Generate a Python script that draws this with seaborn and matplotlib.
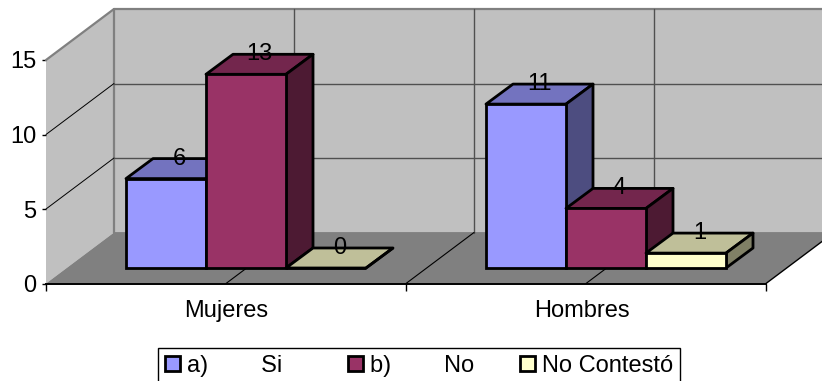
import matplotlib
matplotlib.use("Agg")
import matplotlib.pyplot as plt
import matplotlib.colors as mcolors
from matplotlib.patches import Polygon
import pandas as pd
import seaborn as sns

categories = ["Mujeres", "Hombres"]
series_names = ["a)        Si   ", "b)        No", "No Contestó"]
si_values = [6, 11]
no_values = [13, 4]
nc_values = [0, 1]
series_colors = ["#9999FF", "#993366", "#FFFFCC"]
y_ticks = [0, 5, 10, 15]

W, H = 822, 381
sns.set_style("white")
plt.rcParams["font.family"] = ["Liberation Sans", "DejaVu Sans"]
plt.rcParams["text.color"] = "black"
plt.rcParams["xtick.labelcolor"] = "black"
plt.rcParams["ytick.labelcolor"] = "black"
FS = 17

fig = plt.figure(figsize=(W / 100, H / 100), dpi=100, facecolor="white")


def rect(left, right, top, bottom):
    return [left / W, 1 - bottom / H, (right - left) / W, (bottom - top) / H]


# Front plane of the 3D box: real value/category axes
frame = fig.add_axes(rect(46, 766, 60, 283.5))
frame.set_xlim(0, 2)
frame.set_ylim(0, 15)
frame.patch.set_alpha(0)
PX = 2 / 720
PY = 15 / 223.5
ddx, ddy = 68 * PX, 51 * PY

wall = "#C0C0C0"
floor = "#808080"
edge = "#808080"
grid = "#505050"
frame.add_patch(Polygon([(0, 15), (ddx, 15 + ddy), (ddx, ddy), (0, 0)], fc=wall, ec="none", clip_on=False, zorder=0))
frame.add_patch(Polygon([(ddx, ddy), (2 + ddx, ddy), (2 + ddx, 15 + ddy), (ddx, 15 + ddy)], fc=wall, ec="none", clip_on=False, zorder=0))
frame.add_patch(Polygon([(0, 0), (2, 0), (2 + ddx, ddy), (ddx, ddy)], fc=floor, ec="none", clip_on=False, zorder=0.5))
frame.plot([0, ddx, 2 + ddx], [15, 15 + ddy, 15 + ddy], color=edge, lw=1.6, clip_on=False, zorder=1)
frame.plot([ddx, ddx], [ddy, 15 + ddy], color=edge, lw=1.6, clip_on=False, zorder=1)
frame.plot([ddx, 2 + ddx], [ddy, ddy], color=edge, lw=1.2, clip_on=False, zorder=1)
for v in y_ticks[1:3]:
    frame.plot([0, ddx], [v, v + ddy], color="black", lw=0.7, clip_on=False, zorder=1)
    frame.plot([ddx, 2 + ddx], [v + ddy, v + ddy], color=grid, lw=1.0, clip_on=False, zorder=1)
for c in (0.5, 1.0, 1.5):
    frame.plot([c + ddx, c + ddx], [ddy, 15 + ddy], color=grid, lw=1.0, clip_on=False, zorder=1)
    frame.plot([c, c + ddx], [0, ddy], color="black", lw=0.8, clip_on=False, zorder=1)
frame.plot([2, 2 + ddx], [0, ddy], color="black", lw=1.0, clip_on=False, zorder=1)

frame.set_yticks(y_ticks)
frame.set_xticks([0, 1, 2])
frame.set_xticklabels([])
frame.set_xticks([0.5, 1.49], minor=True)
frame.set_xticklabels(categories, minor=True, fontsize=FS)
frame.tick_params(axis="x", which="major", length=5, width=1, color="black", bottom=True)
frame.tick_params(axis="x", which="minor", length=0, pad=12)
frame.tick_params(axis="y", length=3, width=1, color="black", left=True, labelsize=FS, pad=4)
for s in ("top", "right"):
    frame.spines[s].set_visible(False)
frame.spines["left"].set_visible(False)
frame.spines["bottom"].set_color("black")
frame.spines["bottom"].set_linewidth(1.4)

# Bars: a copy of the axes moved into the box
bars_ax = fig.add_axes(rect(46 + 20, 766 + 20, 60 - 15.5, 283.5 - 15.5))
bars_ax.patch.set_alpha(0)
df = pd.DataFrame({
    "grupo": categories * 3,
    "serie": [series_names[0]] * 2 + [series_names[1]] * 2 + [series_names[2]] * 2,
    "valor": si_values + no_values + nc_values,
})
sns.barplot(data=df, x="grupo", y="valor", hue="serie", hue_order=series_names,
            palette=series_colors, width=2 / 3, gap=0, saturation=1,
            edgecolor="black", linewidth=2, ax=bars_ax)
handles, labels = bars_ax.get_legend_handles_labels()
if bars_ax.get_legend():
    bars_ax.get_legend().remove()
bars_ax.set_xlim(-0.5, 1.5)
bars_ax.set_ylim(0, 15)
bars_ax.axis("off")

bar_dx, bar_dy = 27 * PX, 20 * PY


def shade(color, k):
    r, g, b = mcolors.to_rgb(color)
    return (r * k, g * k, b * k)


rects = sorted((p for c in bars_ax.containers for p in c.patches), key=lambda p: p.get_x())
for i, p in enumerate(rects):
    x0, w, h = p.get_x(), p.get_width(), p.get_height()
    x1 = x0 + w
    col = p.get_facecolor()
    z = 3 + i
    p.set_zorder(z + 0.2)
    p.set_clip_on(False)
    bars_ax.add_patch(Polygon([(x0, h), (x1, h), (x1 + bar_dx, h + bar_dy), (x0 + bar_dx, h + bar_dy)],
                              fc=shade(col, 0.75), ec="black", lw=2, joinstyle="round", clip_on=False, zorder=z))
    bars_ax.add_patch(Polygon([(x1, 0), (x1 + bar_dx, bar_dy), (x1 + bar_dx, h + bar_dy), (x1, h)],
                              fc=shade(col, 0.5), ec="black", lw=2, joinstyle="round", clip_on=False, zorder=z))
    bars_ax.text(x0 + w / 2 + bar_dx / 2, h + bar_dy, f"{h:.0f}", ha="center", va="center",
                 fontsize=FS, color="black", zorder=50, clip_on=False)

leg = fig.legend(handles, labels, ncol=3, loc="lower left", bbox_to_anchor=(158 / W, -3 / H),
                 frameon=True, fontsize=FS, fancybox=False, edgecolor="black", framealpha=1,
                 borderaxespad=0, borderpad=0.3, handlelength=0.62, handleheight=0.62,
                 handletextpad=0.3, columnspacing=1.95)
leg.get_frame().set_linewidth(1)
for h in leg.legend_handles:
    h.set_edgecolor("black")
    h.set_linewidth(2)

fig.savefig("out.png", dpi=100)
